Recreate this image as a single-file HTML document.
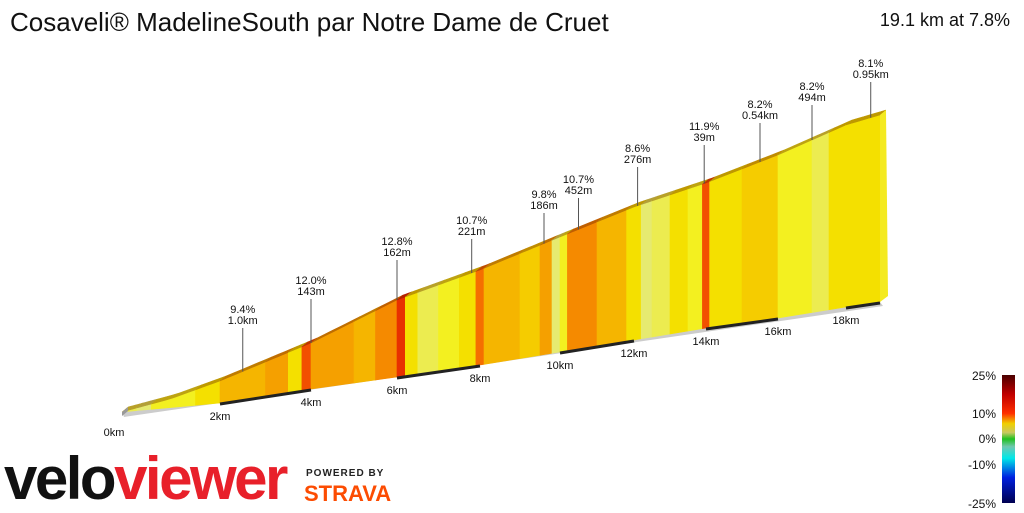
<!DOCTYPE html>
<html><head><meta charset="utf-8"><style>
body{margin:0;width:1024px;height:512px;background:#fff;overflow:hidden;font-family:"Liberation Sans",sans-serif;position:relative}
.t{position:absolute}
</style></head><body>
<div class="t" style="left:10px;top:7px;font-size:26px;color:#111">Cosaveli® MadelineSouth par Notre Dame de Cruet</div>
<div class="t" style="right:14px;top:10px;font-size:18px;color:#111">19.1 km at 7.8%</div>
<svg id="chart" width="1024" height="512" style="position:absolute;left:0;top:0" font-family="Liberation Sans, sans-serif"></svg>
<div class="t" style="left:4px;top:444px;font-size:60px;font-weight:bold;letter-spacing:-2.5px;color:#111">velo<span style="color:#e8202a">viewer</span></div>
<div class="t" style="left:306px;top:468px;font-size:10px;font-weight:bold;letter-spacing:1px;color:#222">POWERED BY</div>
<div class="t" style="left:304px;top:481px;font-size:22px;font-weight:bold;color:#fc4c02">STRAVA</div>
<script>
const tickKm=[0,2,4,6,8,10,12,14,16,18];
const elevKm=[0,1,2,4,6,8,10,12,14,16,18,19.1];
const elevM=[0,70,176,368,616,760,920,1064,1160,1304,1456,1496];
const segStart=[0,0.3,0.6,1.5,2,3,3.5,3.8,4,5,5.5,6,6.2,6.5,7,7.5,7.9,8.1,9,9.5,9.8,10,10.2,11,11.8,12.2,12.5,13,13.5,13.9,14.1,15,16,17,17.5,18];
const segGrade=[4,2,5,6,8,9,6,12,9,8,10,13,6,4,5,6,11,8,7,9,3,5,10,8,6,3,4,6,5,12,6,7,5,4,6,6];
const totalKm=19.1;
const callPct=["9.4%","12.0%","12.8%","10.7%","9.8%","10.7%","8.6%","11.9%","8.2%","8.2%","8.1%"];
const callLen=["1.0km","143m","162m","221m","186m","452m","276m","39m","0.54km","494m","0.95km"];
const callKm=[2.5,4,6,7.8,9.6,10.5,12.1,13.95,15.5,17,18.8];
const callY=[313,284,245,224,198,183,152,130,108,90,67];
const pk=[0,2,4,6,8,10,12,14,16,18,19.1],px=[122,220,311,397,480,560,634,706,778,846,880],py=[412,403,389,377,365,352,340,328,318,307,302];
function lerp(d,a,b){for(let i=0;i<a.length-1;i++){if(d<=a[i+1]||i==a.length-2){const t=(d-a[i])/(a[i+1]-a[i]);return b[i]+t*(b[i+1]-b[i]);}}}
const bx=d=>lerp(d,pk,px),by=d=>lerp(d,pk,py),el=d=>lerp(d,elevKm,elevM);
const ty=d=>by(d)-el(d)*0.125;
function col(g){const c=[[1,'#7ccf5a'],[3,'#e6ea70'],[4,'#ecec50'],[5,'#f3f020'],[6,'#f4e000'],[7,'#f5cc00'],[8,'#f5b500'],[9,'#f5a000'],[10,'#f58a00'],[11,'#f56e00'],[12,'#f25000'],[99,'#e83000']];for(const x of c)if(g<=x[0])return x[1];}
function dark(h){const r=parseInt(h.substr(1,2),16),g=parseInt(h.substr(3,2),16),b=parseInt(h.substr(5,2),16);return 'rgb('+Math.round(r*0.78)+','+Math.round(g*0.68)+','+Math.round(b*0.5)+')';}
const S=document.getElementById('chart'),NS='http://www.w3.org/2000/svg';
function mk(t,a,p){const e=document.createElementNS(NS,t);for(const k in a)e.setAttribute(k,a[k]);(p||S).appendChild(e);return e;}
const pts=(arr)=>arr.map(p=>p[0].toFixed(1)+','+p[1].toFixed(1)).join(' ');
const g0=mk('polygon',{points:pts([[bx(0),by(0)],[bx(totalKm),by(totalKm)],[bx(totalKm)+3,by(totalKm)+4],[bx(0)+2,by(0)+5]]),fill:'#ccc'});


segStart.forEach((s,i)=>{
  const e=i<segStart.length-1?segStart[i+1]:totalKm;const steps=[];const n=6;
  for(let j=0;j<=n;j++)steps.push(s+(e-s)*j/n);
  const top=steps.map(d=>[bx(d),ty(d)]);
  const c=col(segGrade[i]);
  const p=mk('polygon',{points:pts([...top,[bx(e),by(e)],[bx(s),by(s)]]),fill:c,stroke:c,'stroke-width':0.6});
  
  
  const tp=mk('polygon',{points:pts([...top,...top.slice().reverse().map(q=>[q[0]+6,q[1]-5])]),fill:dark(c),stroke:dark(c),'stroke-width':0.5});
  
  
});
const rf=mk('polygon',{points:pts([[bx(totalKm),ty(totalKm)],[bx(totalKm)+6,ty(totalKm)-5],[bx(totalKm)+8,by(totalKm)-6],[bx(totalKm),by(totalKm)]]),fill:'#f4ea20'});


const lf=mk('polygon',{points:pts([[bx(0),by(0)],[bx(0)+6,by(0)-5],[bx(0)+6,by(0)-1],[bx(0),by(0)+4]]),fill:'#999'});


tickKm.forEach((k,i)=>{
  if(i%2==1){const e=Math.min(k+2,totalKm);const l=mk('line',{x1:bx(k),y1:by(k)+1,x2:bx(e),y2:by(e)+1,stroke:'#222','stroke-width':3});
  
  }
  const t=mk('text',{x:bx(k)-(k==0?8:0),y:by(k)+(k==0?24:17),'font-size':11,'text-anchor':'middle',fill:'#111'});
  t.textContent=k+'km';
  
  
});
callKm.forEach((k,i)=>{
  const x=bx(k),y=callY[i];
  const l=mk('line',{x1:x,y1:y+15,x2:x,y2:ty(k),stroke:'#555','stroke-width':1});
  
  
  const a=mk('text',{x:x,y:y,'font-size':11,'text-anchor':'middle',fill:'#111'});a.textContent=callPct[i];
  
  
  const b=mk('text',{x:x,y:y+11,'font-size':11,'text-anchor':'middle',fill:'#111'});b.textContent=callLen[i];
  
  
});
const defs=mk('defs',{});const lg=mk('linearGradient',{id:'lg',x1:0,y1:0,x2:0,y2:1},defs);
[['0','#4a0000'],['0.15','#c00000'],['0.3','#ff3000'],['0.38','#f0d000'],['0.45','#c8c860'],['0.5','#20c020'],['0.56','#70c8b0'],['0.65','#00e8e8'],['0.8','#0020e0'],['1','#000050']].forEach(s=>mk('stop',{offset:s[0],'stop-color':s[1]},lg));
const lb=mk('rect',{x:1002,y:375,width:13,height:128,fill:'url(#lg)'});


[['25%',380],['10%',418],['0%',443],['-10%',469],['-25%',508]].forEach(v=>{const t=mk('text',{x:996,y:v[1],'font-size':12,'text-anchor':'end',fill:'#111'});t.textContent=v[0];

});
</script>
</body></html>
